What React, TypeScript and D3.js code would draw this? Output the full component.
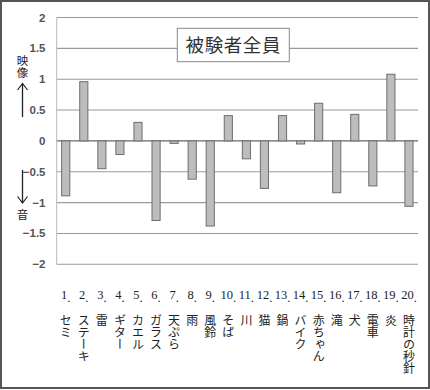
import React from "react";
import * as d3 from "d3";

const categories = ["セミ","ステーキ","雷","ギター","カエル","ガラス","天ぷら","雨","風鈴","そば","川","猫","鍋","バイク","赤ちゃん","滝","犬","電車","炎","時計の秒針"];
const values = [-0.89, 0.96, -0.45, -0.22, 0.30, -1.29, -0.04, -0.62, -1.38, 0.41, -0.29, -0.77, 0.41, -0.05, 0.61, -0.84, 0.43, -0.73, 1.08, -1.06];
const yTicks = [2, 1.5, 1, 0.5, 0, -0.5, -1, -1.5, -2];
const title = "被験者全員";

const W = 430, H = 390;
const plotL = 56.7, plotR = 418, plotT = 17.5, plotB = 264.3;

export default function App() {
  const idx = categories.map((_, i) => i);
  const x = d3.scaleBand<number>().domain(idx).range([plotL, plotR]).paddingInner(0.55).paddingOuter(0.275);
  const y = d3.scaleLinear().domain([-2, 2]).range([plotB, plotT]);
  const fmt = (v: number) => (v < 0 ? "\u2212" + Math.abs(v) : String(v));
  const cjk = "'Noto Sans CJK JP', sans-serif";
  return (
    <svg width={W} height={H} style={{ position: "absolute", left: 0, top: 0, background: "#fff" }}>
      <rect x={1} y={1} width={W - 2} height={H - 3} fill="#fff" stroke="#555" strokeWidth={2} />
      {/* gridlines */}
      {yTicks.map((t) => (
        <line key={t} x1={plotL} x2={plotR} y1={y(t)} y2={y(t)} stroke={t === 0 ? "#666" : "#9a9a9a"} strokeWidth={t === 0 ? 1.3 : 1.1} />
      ))}
      <line x1={plotL} x2={plotL} y1={plotT} y2={plotB} stroke="#bbb" strokeWidth={1} />
      {/* tick labels */}
      {yTicks.map((t) => (
        <text key={"l" + t} x={45.5} y={y(t) + 4} textAnchor="end" fontFamily="'Liberation Sans', Arial, sans-serif" fontSize={11.5} fill="#555" fontWeight="bold">
          {fmt(t)}
        </text>
      ))}
      {/* bars */}
      {values.map((v, i) => (
        <rect key={i} x={x(i)} width={x.bandwidth()} y={y(Math.max(0, v))} height={Math.abs(y(v) - y(0))}
          fill="#bdbdbd" stroke="#6e6e6e" strokeWidth={1} />
      ))}
      {/* title box */}
      <rect x={177.3} y={28.3} width={112} height={33.4} fill="#fff" stroke="#888" strokeWidth={1} />
      <text x={233.3} y={52} textAnchor="middle" fontFamily={cjk} fontSize={18.5} fill="#333" letterSpacing={0.6}>{title}</text>
      {/* left annotations */}
      <text x={22.5} y={55} style={{ writingMode: "vertical-rl" as any }} fontFamily={cjk} fontSize={11.5} fill="#222">映像</text>
      <line x1={22.5} x2={22.5} y1={117} y2={84} stroke="#222" strokeWidth={1.3} />
      <polyline points="17.5,90 22.5,83.5 27.5,90" fill="none" stroke="#222" strokeWidth={1.2} />
      <line x1={22.5} x2={22.5} y1={170} y2={202.5} stroke="#222" strokeWidth={1.3} />
      <polyline points="17.5,196.5 22.5,203 27.5,196.5" fill="none" stroke="#222" strokeWidth={1.2} />
      <text x={22.5} y={209} style={{ writingMode: "vertical-rl" as any }} fontFamily={cjk} fontSize={11.5} fill="#222">音</text>
      {/* x labels */}
      {categories.map((c, i) => {
        const cx = (x(i) as number) + x.bandwidth() / 2;
        return (
          <g key={"c" + i}>
            <text x={cx} y={299} textAnchor="middle" fontFamily="'Liberation Serif', serif" fontSize={12.5} fill="#222">
              {i + 1}<tspan dy={3}>.</tspan>
            </text>
            <text x={cx} y={314} style={{ writingMode: "vertical-rl" as any }} fontFamily={cjk} fontSize={12} fill="#222">{c}</text>
          </g>
        );
      })}
    </svg>
  );
}
